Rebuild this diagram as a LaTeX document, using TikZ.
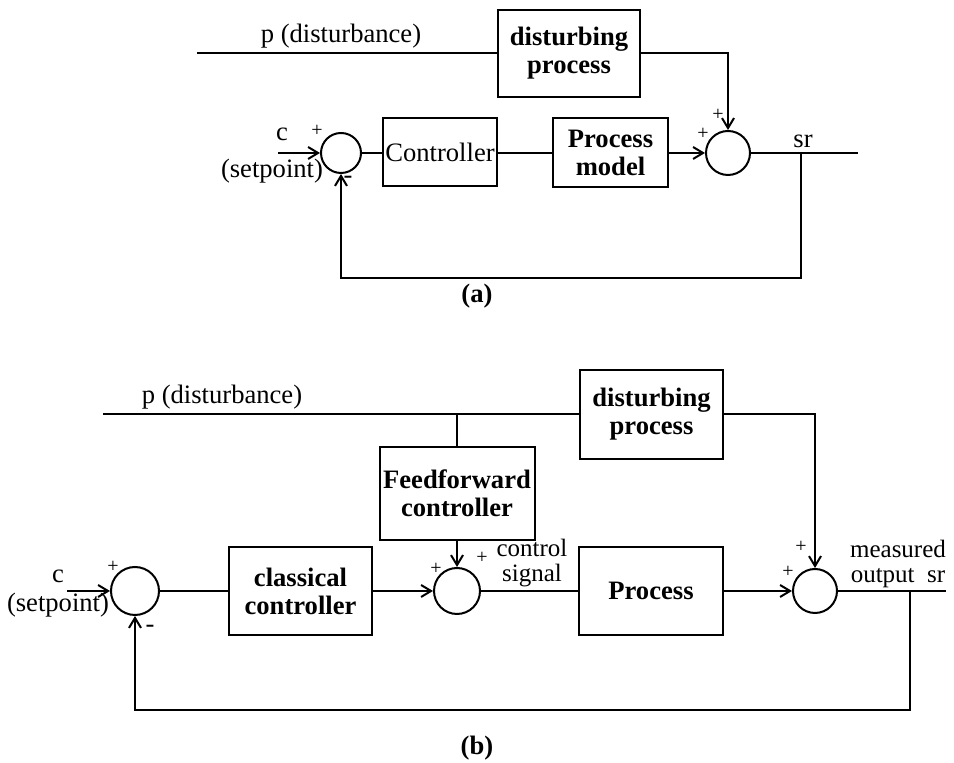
\documentclass[tikz,border=0pt]{standalone}
\usepackage{fontspec}
\setmainfont{Liberation Serif}
\usetikzlibrary{positioning,arrows.meta,calc}
\newcommand{\diagfont}{\fontsize{13.3pt}{14pt}\selectfont}
\newcommand{\tightfont}{\fontsize{12.5pt}{12.7pt}\selectfont\lineskiplimit=-20pt}

\begin{document}
\begin{tikzpicture}[x=0.5pt, y=-0.5pt, line width=1pt,
    every node/.style={font=\diagfont, inner sep=0pt},
    block/.style={draw, align=center, font=\diagfont\bfseries},
    sumnode/.style={draw, circle, minimum size=#1},
    sgn/.style={font=\fontsize{10pt}{12pt}\selectfont},
    tight/.style={align=center, font=\tightfont},
    sig/.style={-{Straight Barb[length=5pt,width=6pt]}}]
    \useasboundingbox (0,0) rectangle (954,763);
    % (a)
    \coordinate (pa) at (197,53.5);
    \node[block, minimum width=71pt, minimum height=43.5pt] (dista) at (569,53.5) {disturbing\\process};
    \node[sumnode=20pt] (suma1) at (341,153) {};
    \coordinate (ca) at (278,153);
    \node[block, font=\diagfont, minimum width=57pt, minimum height=34pt] (ctrla) at (440,152) {Controller};
    \node[block, minimum width=57.5pt, minimum height=34.5pt] (proca) at (610.5,153) {Process\\model};
    \node[sumnode=22pt] (suma2) at (728,153) {};
    \coordinate (outa) at (858,153);
    \coordinate (bra) at (801,153);
    \coordinate (fba) at (801,278);
    \draw (pa) -- (dista.west);
    \draw[sig] (dista.east) -| (suma2.north);
    \draw[sig] (ca) -- (suma1.west);
    \draw (suma1.east) -- (ctrla.west |- suma1.east);
    \draw (ctrla.east |- proca.west) -- (proca.west);
    \draw[sig] (proca.east) -- (suma2.west);
    \draw (suma2.east) -- (outa);
    \draw[sig] (bra) -- (fba) -| (suma1.south);
    \node at (341,36) {p (disturbance)};
    \node at (282,134) {c};
    \node[sgn] at (317,131) {+};
    \node at (272,171) {(setpoint)};
    \node at (348,180) {-};
    \node[sgn] at (718,115) {+};
    \node[sgn] at (703,134) {+};
    \node at (803,141) {sr};
    \node[font=\diagfont\bfseries] at (477,296) {(a)};
    % (b)
    \coordinate (pb) at (103,414.5);
    \node[block, minimum width=71.5pt, minimum height=44.5pt] (distb) at (651.5,414.5) {disturbing\\process};
    \coordinate (brb) at (457,414.5);
    \node[block, minimum width=77.5pt, minimum height=46.5pt] (ffb) at (457,493.5) {Feedforward\\controller};
    \node[sumnode=23pt] (sumb2) at (457,591) {};
    \node[sumnode=24pt] (sumb1) at (135,591) {};
    \node[block, minimum width=71.5pt, minimum height=44pt] (ctrlb) at (300.5,591) {classical\\controller};
    \node[block, minimum width=72pt, minimum height=44pt] (procb) at (651,591) {Process};
    \node[sumnode=22pt] (sumb3) at (815,591) {};
    \coordinate (cb) at (67,591);
    \coordinate (outb) at (946,591);
    \coordinate (brb2) at (910,591);
    \coordinate (fbb) at (910,710);
    \draw (pb) -- (distb.west);
    \draw (brb) -- (ffb.north);
    \draw[sig] (distb.east) -| (sumb3.north);
    \draw[sig] (ffb.south) -- (sumb2.north);
    \draw[sig] (cb) -- (sumb1.west);
    \draw (sumb1.east) -- (ctrlb.west);
    \draw[sig] (ctrlb.east) -- (sumb2.west);
    \draw (sumb2.east) -- (procb.west);
    \draw[sig] (procb.east) -- (sumb3.west);
    \draw (sumb3.east) -- (outb);
    \draw[sig] (brb2) -- (fbb) -| (sumb1.south);
    \node at (222,397) {p (disturbance)};
    \node at (58,576) {c};
    \node at (58,605) {(setpoint)};
    \node[sgn] at (113,567) {+};
    \node at (150,629) {-};
    \node[sgn] at (436,569) {+};
    \node[sgn] at (482,558) {+};
    \node[tight] at (532,563) {control\\signal};
    \node[sgn] at (801,547) {+};
    \node[sgn] at (788,572) {+};
    \node[tight] at (898,564) {measured\\output\ \ sr};
    \node[font=\diagfont\bfseries] at (477,748) {(b)};
\end{tikzpicture}
\end{document}
